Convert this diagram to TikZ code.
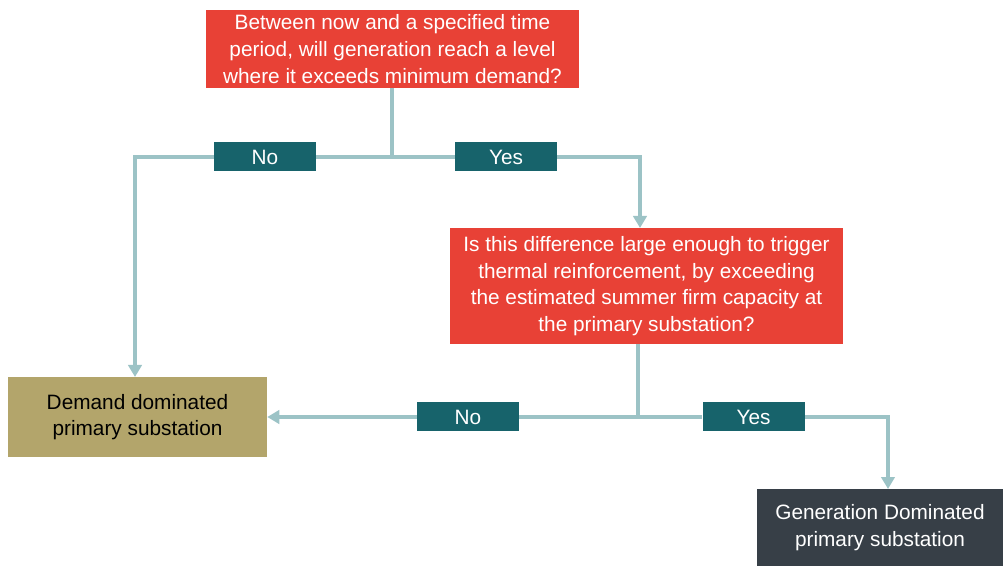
\documentclass[tikz,border=0pt]{standalone}
\usepackage{fontspec}
\setmainfont{Liberation Sans}
\usetikzlibrary{arrows.meta,backgrounds}
\definecolor{qred}{HTML}{E84136}
\definecolor{tagteal}{HTML}{17636B}
\definecolor{linkblue}{HTML}{9CC3C6}
\definecolor{demtan}{HTML}{B3A56B}
\definecolor{gendark}{HTML}{373F47}
\tikzset{
  box/.style={rectangle, inner sep=0pt, align=center, font=\fontsize{15.6}{20}\selectfont},
  question/.style={box, fill=qred, text=white},
  tag/.style={box, fill=tagteal, text=white, minimum width=76.5pt, minimum height=21.75pt},
  conn/.style={draw=linkblue, line width=3pt},
  tip/.style={-{Triangle[width=10pt,length=9pt]}},
}
\begin{document}
\begin{tikzpicture}[x=0.75pt,y=-0.75pt]
\useasboundingbox (0,0) rectangle (1003,566);

% decision boxes
\node[question, minimum width=279.75pt, minimum height=58.5pt] (top) at (392.5,49)
  {Between now and a specified time\\period, will generation reach a level\\where it exceeds minimum demand?};
\node[question, minimum width=294.75pt, minimum height=87pt] (q2) at (646.5,286)
  {Is this difference large enough to trigger\\thermal reinforcement, by exceeding\\the estimated summer firm capacity at\\the primary substation?};

% outcome boxes
\node[box, fill=demtan, text=black, minimum width=194.25pt, minimum height=59.25pt] (dem) at (137.5,417)
  {Demand dominated\\primary substation};
\node[box, fill=gendark, text=white, minimum width=184.5pt, minimum height=57.75pt] (gen) at (880,527.5)
  {Generation Dominated\\primary substation};

% answer tags
\node[tag] (no1) at (265,157) {No};
\node[tag] (yes1) at (506,157) {Yes};
\node[tag] (no2) at (468,417) {No};
\node[tag] (yes2) at (753.5,417) {Yes};

% junctions and arrow targets
\coordinate (j1) at (392,157);
\coordinate (q2in) at (640,228);
\coordinate (demin) at (135,377);
\coordinate (j2) at (638,417);
\coordinate (genin) at (888,489);

\begin{scope}[on background layer]
  \draw[conn] (top.south -| j1) -- (j1);
  \draw[conn, tip] (j1) -- (no1) -| (demin);
  \draw[conn, tip] (j1) -- (yes1) -| (q2in);
  \draw[conn] (q2.south -| j2) -- (j2);
  \draw[conn, tip] (j2) -- (no2) -- (dem.east);
  \draw[conn, tip] (j2) -- (yes2) -| (genin);
\end{scope}
\end{tikzpicture}
\end{document}
